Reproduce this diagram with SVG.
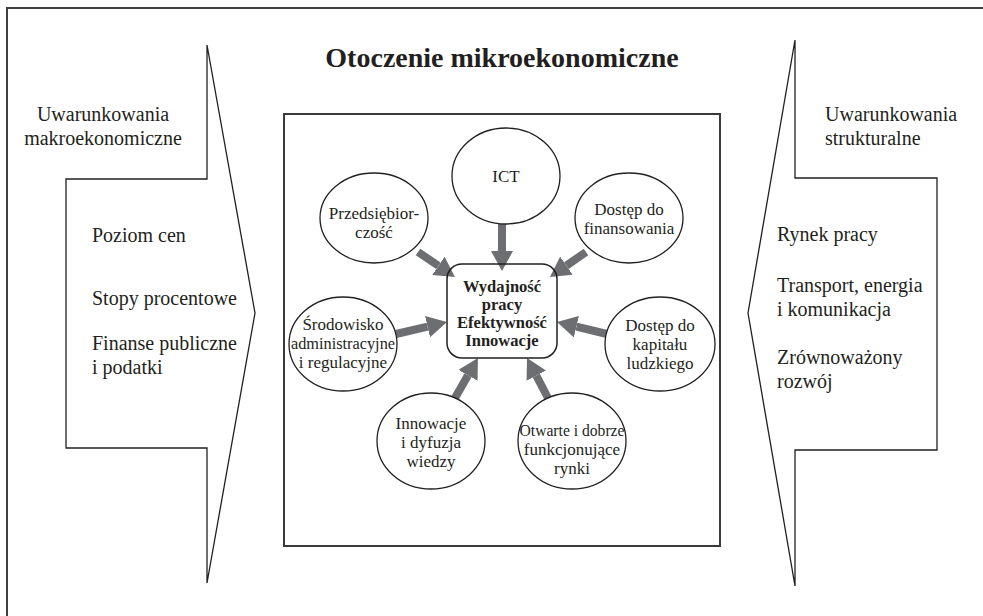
<svg xmlns="http://www.w3.org/2000/svg" width="983" height="616" viewBox="0 0 983 616" font-family="'Liberation Serif', 'DejaVu Serif', serif">
<defs>
<style>
.t{font-family:"Liberation Serif","DejaVu Serif",serif;fill:#231f20}
.side{font-size:20px}
.el{font-size:17px;text-anchor:middle}
.ttl{font-size:28px;font-weight:bold;text-anchor:middle}
.ctr{font-size:16.5px;font-weight:bold;text-anchor:middle}
.node{fill:#fff;stroke:#231f20;stroke-width:1.3}
.shape{fill:none;stroke:#231f20;stroke-width:1.3}
.arr{stroke:#6d6e71;stroke-width:8;fill:none}
</style>
<marker id="ah" markerUnits="userSpaceOnUse" markerWidth="20" markerHeight="22" viewBox="0 0 20 22" refX="0" refY="11" orient="auto">
<path d="M0,0 L20,11 L0,22 z" fill="#6d6e71"/>
</marker>
</defs>
<rect width="983" height="616" fill="#fff"/>
<path d="M7,616 V8 H983" fill="none" stroke="#3f3f3f" stroke-width="2"/>
<text class="t ttl" x="502" y="67">Otoczenie mikroekonomiczne</text>

<g id="left-panel">
<path class="shape" d="M207,45 V179 H66 V448 H207 V583 L255,313 Z"/>
<text class="t side" x="103" y="121" text-anchor="middle">Uwarunkowania</text>
<text class="t side" x="103" y="145" text-anchor="middle">makroekonomiczne</text>
<text class="t side" x="92" y="242">Poziom cen</text>
<text class="t side" x="92" y="305">Stopy procentowe</text>
<text class="t side" x="92" y="350">Finanse publiczne</text>
<text class="t side" x="92" y="374">i podatki</text>
</g>

<g id="right-panel">
<path class="shape" d="M795,40 V178 H937 V450 H795 V586 L748,313 Z"/>
<text class="t side" x="825" y="121">Uwarunkowania</text>
<text class="t side" x="825" y="145">strukturalne</text>
<text class="t side" x="777" y="241">Rynek pracy</text>
<text class="t side" x="777" y="292">Transport, energia</text>
<text class="t side" x="777" y="316">i komunikacja</text>
<text class="t side" x="777" y="364">Zrównoważony</text>
<text class="t side" x="777" y="388">rozwój</text>
</g>

<g id="micro-box">
<rect x="284" y="114" width="436" height="432" fill="none" stroke="#3a3a3a" stroke-width="2"/>
</g>

<g id="connectors">
<line class="arr" x1="502" y1="224" x2="502" y2="251" marker-end="url(#ah)"/>
<line class="arr" x1="418" y1="252" x2="438.4" y2="265.8" marker-end="url(#ah)"/>
<line class="arr" x1="586" y1="252" x2="566.4" y2="265.6" marker-end="url(#ah)"/>
<line class="arr" x1="396" y1="334" x2="427.5" y2="326.6" marker-end="url(#ah)"/>
<line class="arr" x1="607" y1="334" x2="576.4" y2="326.7" marker-end="url(#ah)"/>
<line class="arr" x1="455" y1="398" x2="468" y2="375.3" marker-end="url(#ah)"/>
<line class="arr" x1="548" y1="398" x2="536.3" y2="375.7" marker-end="url(#ah)"/>
</g>

<g id="center">
<rect x="447" y="264" width="110" height="94" rx="15" fill="none" stroke="#231f20" stroke-width="1.5"/>
<text class="t ctr" x="502" y="292">Wydajność</text>
<text class="t ctr" x="502" y="310">pracy</text>
<text class="t ctr" x="502" y="328">Efektywność</text>
<text class="t ctr" x="502" y="346">Innowacje</text>
</g>

<g id="ict">
<ellipse class="node" cx="506" cy="176" rx="54" ry="48"/>
<text class="t el" x="506" y="182">ICT</text>
</g>
<g id="przedsiebiorczosc">
<ellipse class="node" cx="374" cy="218" rx="54" ry="45"/>
<text class="t el" x="374" y="219">Przedsiębior-</text>
<text class="t el" x="374" y="238">czość</text>
</g>
<g id="finansowanie">
<ellipse class="node" cx="629" cy="218" rx="54" ry="45"/>
<text class="t el" x="629" y="215">Dostęp do</text>
<text class="t el" x="629" y="234">finansowania</text>
</g>
<g id="srodowisko">
<ellipse class="node" cx="343" cy="344" rx="54" ry="47"/>
<text class="t el" x="343" y="330">Środowisko</text>
<text class="t el" x="343" y="349" textLength="104" lengthAdjust="spacingAndGlyphs">administracyjne</text>
<text class="t el" x="343" y="368">i regulacyjne</text>
</g>
<g id="kapital">
<ellipse class="node" cx="660" cy="344" rx="55" ry="47"/>
<text class="t el" x="660" y="331">Dostęp do</text>
<text class="t el" x="660" y="350">kapitału</text>
<text class="t el" x="660" y="369">ludzkiego</text>
</g>
<g id="innowacje">
<ellipse class="node" cx="431" cy="441" rx="54" ry="48"/>
<text class="t el" x="431" y="429">Innowacje</text>
<text class="t el" x="431" y="448">i dyfuzja</text>
<text class="t el" x="431" y="467">wiedzy</text>
</g>
<g id="rynki">
<ellipse class="node" cx="572" cy="441" rx="54" ry="48"/>
<text class="t el" x="572" y="436" textLength="105" lengthAdjust="spacingAndGlyphs">Otwarte i dobrze</text>
<text class="t el" x="572" y="455">funkcjonujące</text>
<text class="t el" x="572" y="474">rynki</text>
</g>
</svg>
